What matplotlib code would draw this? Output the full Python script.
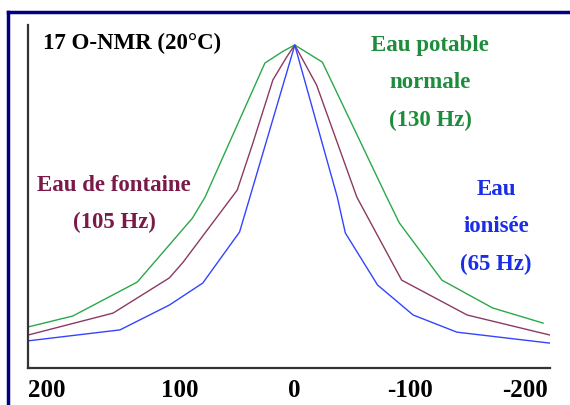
import matplotlib
matplotlib.use("Agg")
import matplotlib.pyplot as plt
from matplotlib.lines import Line2D
import matplotlib.transforms as mtransforms

# chemical shift (Hz) and normalised intensity
x_green = [232, 193, 137, 128, 89, 78, 26, 10, 0, -24, -80, -91, -128, -172, -216]
y_green = [0.127, 0.161, 0.266, 0.303, 0.464, 0.529, 0.944, 0.981, 1.0,
           0.947, 0.529, 0.449, 0.272, 0.186, 0.139]

x_maroon = [232, 158, 109, 97, 50, 37, 19, 7, 0, -19, -54, -93, -150, -222]
y_maroon = [0.102, 0.170, 0.279, 0.328, 0.551, 0.690, 0.892, 0.963, 1.0,
            0.876, 0.529, 0.272, 0.164, 0.102]

x_blue = [232, 152, 109, 80, 48, 39, 2, 0, -37, -44, -72, -103, -141, -222]
y_blue = [0.084, 0.118, 0.195, 0.263, 0.421, 0.529, 0.975, 1.0,
          0.529, 0.418, 0.257, 0.164, 0.111, 0.077]

ticks = [200, 100, 0, -100, -200]
tick_labels = ["200", "100", "0", "-100", "-200"]

serif = "Liberation Serif"
fs = 16.5

fig = plt.figure(figsize=(5.7, 4.05), dpi=100)
ax = fig.add_axes([28 / 570, 37 / 405, 522 / 570, 343 / 405])

ax.plot(x_green, y_green, color="#2aa84a", lw=1.0)
ax.plot(x_maroon, y_maroon, color="#8b3a62", lw=1.0)
ax.plot(x_blue, y_blue, color="#3344ff", lw=1.0)

ax.set_xlim(232, -222)
ax.set_ylim(0, 343 / 323)
ax.set_yticks([])
ax.set_xticks(ticks)
ax.set_xticklabels(tick_labels, fontfamily=serif, fontweight="bold", fontsize=18)
ax.tick_params(axis="x", length=0, pad=8)
# first label sits flush with the left spine
lab = ax.get_xticklabels()[0]
lab.set_transform(lab.get_transform() + mtransforms.ScaledTranslation(-0.18, 0, fig.dpi_scale_trans))

for s in ["top", "right"]:
    ax.spines[s].set_visible(False)
for s in ["left", "bottom"]:
    ax.spines[s].set_color("#333333")
    ax.spines[s].set_linewidth(1.6)

# titles / labels
fig.text(43 / 570, 1 - 43 / 405, "17 O-NMR (20°C)", fontfamily=serif, fontweight="bold",
         fontsize=fs, color="black", ha="left", va="center")
fig.text(430 / 570, 1 - 83 / 405, "Eau potable\nnormale\n(130 Hz)", fontfamily=serif,
         fontweight="bold", fontsize=fs, color="#1e8c3c", ha="center", va="center",
         linespacing=2.0)
fig.text(114 / 570, 1 - 204 / 405, "Eau de fontaine\n(105 Hz)", fontfamily=serif,
         fontweight="bold", fontsize=fs, color="#7a1a48", ha="center", va="center",
         linespacing=2.0)
fig.text(496 / 570, 1 - 227 / 405, "Eau\nionisée\n(65 Hz)", fontfamily=serif,
         fontweight="bold", fontsize=fs, color="#1a2ee8", ha="center", va="center",
         linespacing=2.0)

# navy frame on top and left
fig.add_artist(Line2D([8 / 570, 8 / 570], [0, 1 - 12 / 405], transform=fig.transFigure,
                      color="#000080", lw=2.5))
fig.add_artist(Line2D([8 / 570, 1], [1 - 12 / 405, 1 - 12 / 405], transform=fig.transFigure,
                      color="#000080", lw=2.5))

fig.savefig("out.png", dpi=100)
